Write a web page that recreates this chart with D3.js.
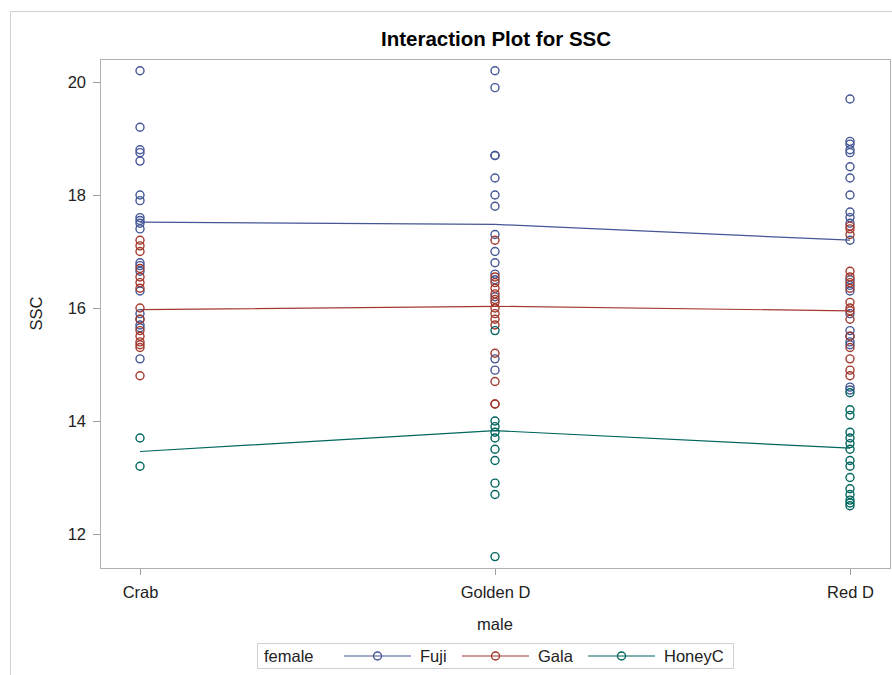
<!DOCTYPE html>
<html><head><meta charset="utf-8">
<script src="https://cdn.jsdelivr.net/npm/d3@7"></script>
<style>body{margin:0;background:#fff;}svg{display:block;font-family:Arial,"Liberation Sans",sans-serif;}</style>
</head><body><svg id="c" width="892" height="675"></svg>
<script>
const males = ["Crab", "Golden D", "Red D"];
const females = ["Fuji", "Gala", "HoneyC"];
const colors = ["#445694", "#A23A2E", "#01665E"];
const yTicks = [12, 14, 16, 18, 20];

// observed SSC values per female, per male (Crab, Golden D, Red D)
const fujiCrab = [20.2, 19.2, 18.8, 18.75, 18.6, 18.0, 17.9, 17.6, 17.55, 17.5, 17.4, 16.8, 16.75, 16.65, 16.3, 15.9, 15.8, 15.7, 15.65, 15.1];
const fujiGolden = [20.2, 19.9, 18.7, 18.7, 18.3, 18.0, 17.8, 17.3, 17.0, 16.8, 16.6, 16.5, 16.2, 15.1, 14.9];
const fujiRed = [19.7, 18.95, 18.9, 18.8, 18.75, 18.5, 18.3, 18.0, 17.7, 17.6, 17.5, 17.2, 16.5, 16.4, 16.3, 15.9, 15.6, 15.5, 15.4, 15.35, 14.6, 14.55];
const galaCrab = [17.2, 17.1, 17.0, 16.7, 16.55, 16.45, 16.35, 16.0, 15.8, 15.6, 15.5, 15.4, 15.35, 15.3, 14.8];
const galaGolden = [17.2, 16.55, 16.45, 16.35, 16.25, 16.15, 16.1, 16.0, 15.9, 15.8, 15.7, 15.2, 14.7, 14.3, 14.3];
const galaRed = [17.45, 17.4, 17.3, 16.65, 16.55, 16.45, 16.35, 16.1, 16.0, 15.95, 15.8, 15.5, 15.3, 15.1, 14.9, 14.8];
const honeyCrab = [13.7, 13.2];
const honeyGolden = [15.6, 14.0, 13.9, 13.8, 13.7, 13.5, 13.3, 12.9, 12.7, 11.6];
const honeyRed = [14.5, 14.2, 14.1, 13.8, 13.7, 13.6, 13.5, 13.3, 13.2, 13.0, 12.8, 12.7, 12.6, 12.55, 12.5];

// cell means (lines)
const fujiMeans = [17.52, 17.48, 17.2];
const galaMeans = [15.97, 16.03, 15.95];
const honeyMeans = [13.46, 13.83, 13.52];

const obs = [[fujiCrab, fujiGolden, fujiRed], [galaCrab, galaGolden, galaRed], [honeyCrab, honeyGolden, honeyRed]];
const means = [fujiMeans, galaMeans, honeyMeans];

const FS = 16.5;
const svg = d3.select("#c");
const frame = {l: 100, r: 890, t: 59, b: 568};
const x = d3.scalePoint().domain(males).range([frame.l + 40, frame.r - 40]);
const y = d3.scaleLinear().domain([12, 20]).range([534, 82]);

// outer border
svg.append("rect").attr("x", 10.5).attr("y", 11.5).attr("width", 900).attr("height", 700)
  .attr("fill", "none").attr("stroke", "#d0d0d0");

// title
svg.append("text").attr("x", 496).attr("y", 46).attr("text-anchor", "middle")
  .attr("font-size", 20.5).attr("font-weight", "bold").attr("fill", "#000").text("Interaction Plot for SSC");

// axes
const yAxis = d3.axisLeft(y).tickValues(yTicks).tickSize(7).tickPadding(7);
const gy = svg.append("g").attr("transform", `translate(${frame.l},0)`).call(yAxis);
const xAxis = d3.axisBottom(x).tickSize(7).tickPadding(11);
const gx = svg.append("g").attr("transform", `translate(0,${frame.b})`).call(xAxis);
[gy, gx].forEach(g => {
  g.select(".domain").remove();
  g.selectAll(".tick line").attr("stroke", "#9aa0a4");
  g.selectAll(".tick text").attr("font-size", FS).attr("fill", "#222").attr("font-family", "Arial, 'Liberation Sans', sans-serif");
});

// frame
svg.append("rect").attr("x", frame.l + 0.5).attr("y", frame.t + 0.5)
  .attr("width", frame.r - frame.l).attr("height", frame.b - frame.t)
  .attr("fill", "none").attr("stroke", "#aab0b4");

// axis labels
svg.append("text").attr("transform", `translate(42,${(frame.t + frame.b) / 2}) rotate(-90)`)
  .attr("text-anchor", "middle").attr("font-size", FS).attr("fill", "#222").text("SSC");
svg.append("text").attr("x", (frame.l + frame.r) / 2 - 0).attr("y", 630).attr("text-anchor", "middle")
  .attr("font-size", FS).attr("fill", "#222").text("male");

// lines
const line = d3.line().x((d, i) => x(males[i])).y(d => y(d));
means.forEach((m, k) => {
  svg.append("path").attr("d", line(m)).attr("fill", "none").attr("stroke", colors[k]).attr("stroke-width", 1.2);
});

// points
obs.forEach((series, k) => {
  const pts = [];
  series.forEach((vals, i) => vals.forEach(v => pts.push({m: males[i], v})));
  svg.append("g").selectAll("circle").data(pts).join("circle")
    .attr("cx", d => x(d.m)).attr("cy", d => y(d.v)).attr("r", 4)
    .attr("fill", "none").attr("stroke", colors[k]).attr("stroke-width", 1.4);
});

// legend
const lg = svg.append("g");
lg.append("rect").attr("x", 257.5).attr("y", 643.5).attr("width", 476).attr("height", 25)
  .attr("fill", "none").attr("stroke", "#d0d0d0");
lg.append("text").attr("x", 264).attr("y", 662).attr("font-size", FS).attr("fill", "#222").text("female");
const lgX = [344, 462, 588];
females.forEach((f, k) => {
  const x0 = lgX[k];
  lg.append("line").attr("x1", x0).attr("x2", x0 + 67).attr("y1", 656).attr("y2", 656)
    .attr("stroke", colors[k]).attr("stroke-width", 1.2);
  lg.append("circle").attr("cx", x0 + 33.5).attr("cy", 656).attr("r", 4)
    .attr("fill", "none").attr("stroke", colors[k]).attr("stroke-width", 1.4);
  lg.append("text").attr("x", x0 + 76).attr("y", 662).attr("font-size", FS).attr("fill", "#222").text(f);
});
</script></body></html>
